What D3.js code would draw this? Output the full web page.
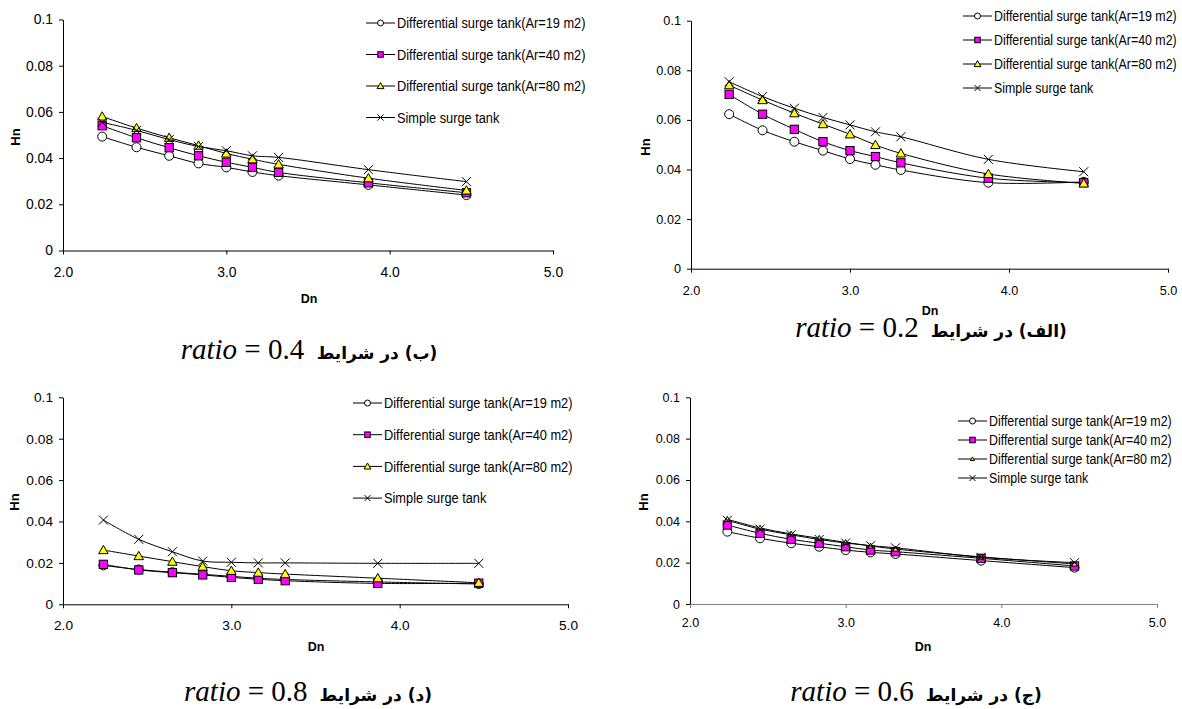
<!DOCTYPE html>
<html>
<head>
<meta charset="utf-8">
<script src="https://cdn.jsdelivr.net/npm/d3@7"></script>
<style>
  body { margin: 0; background: #fff; }
  svg { display: block; }
</style>
</head>
<body>
<svg id="chart" width="1182" height="709"></svg>
<script>
// Dn values (same for every plot)
const dn = [2.24, 2.45, 2.65, 2.83, 3.0, 3.16, 3.32, 3.87, 4.47];

const seriesNames = [
  'Differential surge tank(Ar=19 m2)',
  'Differential surge tank(Ar=40 m2)',
  'Differential surge tank(Ar=80 m2)',
  'Simple surge tank'
];
const seriesMarks = ['circle', 'square', 'triangle', 'x'];

const xTicks = [2, 3, 4, 5];
const yTicks = [0, 0.02, 0.04, 0.06, 0.08, 0.1];

// ratio = 0.4  (ب)
const r04_ar19 = [0.0493, 0.0447, 0.0410, 0.0377, 0.0360, 0.0340, 0.0324, 0.0284, 0.0240];
const r04_ar40 = [0.0540, 0.0488, 0.0445, 0.0410, 0.0382, 0.0360, 0.0338, 0.0293, 0.0250];
const r04_ar80 = [0.0580, 0.0530, 0.0488, 0.0454, 0.0420, 0.0395, 0.0373, 0.0313, 0.0260];
const r04_simple = [0.0555, 0.0520, 0.0480, 0.0450, 0.0432, 0.0410, 0.0403, 0.0350, 0.0298];

// ratio = 0.2  (الف)
const r02_ar19 = [0.0623, 0.0558, 0.0512, 0.0476, 0.0442, 0.0419, 0.0398, 0.0347, 0.0350];
const r02_ar40 = [0.0703, 0.0623, 0.0562, 0.0512, 0.0476, 0.0452, 0.0427, 0.0365, 0.0347];
const r02_ar80 = [0.0740, 0.0680, 0.0627, 0.0583, 0.0542, 0.0499, 0.0465, 0.0382, 0.0344];
const r02_simple = [0.0754, 0.0694, 0.0647, 0.0610, 0.0580, 0.0552, 0.0532, 0.0441, 0.0391];

// ratio = 0.8  (د)
const r08_ar19 = [0.0188, 0.0168, 0.0155, 0.0145, 0.0135, 0.0126, 0.0120, 0.0108, 0.0098];
const r08_ar40 = [0.0193, 0.0166, 0.0153, 0.0142, 0.0130, 0.0121, 0.0114, 0.0101, 0.0102];
const r08_ar80 = [0.0262, 0.0233, 0.0206, 0.0182, 0.0162, 0.0153, 0.0146, 0.0126, 0.0104];
const r08_simple = [0.0407, 0.0314, 0.0254, 0.0209, 0.0203, 0.0200, 0.0200, 0.0198, 0.0198];

// ratio = 0.6  (ج)
const r06_ar19 = [0.0350, 0.0318, 0.0294, 0.0277, 0.0261, 0.0250, 0.0242, 0.0210, 0.0176];
const r06_ar40 = [0.0382, 0.0342, 0.0313, 0.0294, 0.0277, 0.0261, 0.0253, 0.0221, 0.0184];
const r06_ar80 = [0.0410, 0.0368, 0.0339, 0.0318, 0.0298, 0.0281, 0.0266, 0.0228, 0.0194];
const r06_simple = [0.0405, 0.0362, 0.0335, 0.0312, 0.0295, 0.0282, 0.0272, 0.0226, 0.0200];

const ratios = ['0.4', '0.2', '0.8', '0.6'];
const letters = ['ب', 'الف', 'د', 'ج'];

// layout of the four plots
const panels = [
  { series: [r04_ar19, r04_ar40, r04_ar80, r04_simple], x0: 63, x1: 553, yb: 250.5, yt: 19.5,
    tickFs: 13.9, padX: 13, legFs: 12.8, legX: 366, legY: 23, legDy: 31.5,
    hn: [15, 137], dnPos: [309, 299], cap: [309, 359], axisCol: '#000', tri: 1 },
  { series: [r02_ar19, r02_ar40, r02_ar80, r02_simple], x0: 691, x1: 1168, yb: 268.7, yt: 20.7,
    tickFs: 12.7, padX: 13, legFs: 12.4, legX: 963, legY: 16, legDy: 24,
    hn: [645, 147], dnPos: [930, 311], cap: [931, 337], axisCol: '#000', tri: 1 },
  { series: [r08_ar19, r08_ar40, r08_ar80, r08_simple], x0: 63, x1: 568, yb: 604.3, yt: 397.3,
    tickFs: 13.7, padX: 12, legFs: 12.8, legX: 353, legY: 403, legDy: 31.7,
    hn: [14, 502], dnPos: [316, 647], cap: [308, 701], axisCol: '#000', tri: 1 },
  { series: [r06_ar19, r06_ar40, r06_ar80, r06_simple], x0: 690, x1: 1157, yb: 604, yt: 397.3,
    tickFs: 12.5, padX: 10, legFs: 12.4, legX: 958, legY: 421, legDy: 19,
    hn: [643, 502], dnPos: [923, 647], cap: [916, 701], axisCol: '#808080', tri: 0.6 }
];

const svg = d3.select('#chart');
const sans = '"Liberation Sans", Arial, sans-serif';

function marker(g, type, cx, cy, s) {
  const h = s / 2;
  if (type === 'circle') {
    g.append('circle').attr('cx', cx).attr('cy', cy).attr('r', h)
      .attr('fill', '#fff').attr('stroke', '#000').attr('stroke-width', 1);
  } else if (type === 'square') {
    g.append('rect').attr('x', cx - h * 0.92).attr('y', cy - h * 0.92)
      .attr('width', s * 0.92).attr('height', s * 0.92)
      .attr('fill', '#ff00ff').attr('stroke', '#000').attr('stroke-width', 1);
  } else if (type === 'triangle') {
    g.append('path')
      .attr('d', `M${cx},${cy - h * 1.05}L${cx + h * 1.05},${cy + h * 0.8}L${cx - h * 1.05},${cy + h * 0.8}Z`)
      .attr('fill', '#ffff00').attr('stroke', '#000').attr('stroke-width', 1);
  } else {
    g.append('path')
      .attr('d', `M${cx - h},${cy - h}L${cx + h},${cy + h}M${cx - h},${cy + h}L${cx + h},${cy - h}`)
      .attr('fill', 'none').attr('stroke', '#000').attr('stroke-width', 1);
  }
}

panels.forEach((p, pi) => {
  const g = svg.append('g');
  const x = d3.scaleLinear().domain([2, 5]).range([p.x0, p.x1]);
  const y = d3.scaleLinear().domain([0, 0.1]).range([p.yb, p.yt]);

  // axes
  const yAxis = d3.axisLeft(y).tickValues(yTicks).tickSize(4).tickSizeOuter(0).tickPadding(6)
    .tickFormat(d => d === 0 ? '0' : (d === 0.1 ? '0.1' : d3.format('.2f')(d)));
  const xAxis = d3.axisBottom(x).tickValues(xTicks).tickSize(4).tickSizeOuter(0).tickPadding(p.padX)
    .tickFormat(d3.format('.1f'));

  const ya = g.append('g').attr('transform', `translate(${p.x0},0)`).call(yAxis);
  const xa = g.append('g').attr('transform', `translate(0,${p.yb})`).call(xAxis);
  [ya, xa].forEach(a => {
    a.selectAll('text').attr('font-family', sans).attr('font-size', p.tickFs).attr('fill', '#000');
  });
  ya.select('.domain').attr('stroke', '#000');
  ya.selectAll('line').attr('stroke', '#000');
  xa.select('.domain').attr('stroke', p.axisCol);
  xa.selectAll('line').attr('stroke', p.axisCol);

  g.append('text').attr('transform', `translate(${p.hn[0]},${p.hn[1]}) rotate(-90)`)
    .attr('text-anchor', 'middle').attr('dy', '0.35em')
    .attr('font-family', sans).attr('font-weight', 'bold').attr('font-size', 13).text('Hn');
  g.append('text').attr('x', p.dnPos[0]).attr('y', p.dnPos[1]).attr('dy', '0.35em')
    .attr('text-anchor', 'middle')
    .attr('font-family', sans).attr('font-weight', 'bold').attr('font-size', 12.5).text('Dn');

  // series
  const line = d3.line().x((d, i) => x(dn[i])).y(d => y(d)).curve(d3.curveCatmullRom);
  p.series.forEach((vals, si) => {
    const sg = g.append('g');
    sg.append('path').attr('d', line(vals)).attr('fill', 'none')
      .attr('stroke', '#000').attr('stroke-width', 1);
    const s = seriesMarks[si] === 'triangle' ? 9 * p.tri : 9;
    vals.forEach((v, i) => marker(sg, seriesMarks[si], x(dn[i]), y(v), s));
  });

  // legend
  const lg = g.append('g');
  seriesNames.forEach((name, si) => {
    const ly = p.legY + si * p.legDy;
    lg.append('line').attr('x1', p.legX).attr('x2', p.legX + 29).attr('y1', ly).attr('y2', ly)
      .attr('stroke', '#000').attr('stroke-width', 1);
    const s = seriesMarks[si] === 'triangle' ? 6.5 * p.tri : 6;
    marker(lg, seriesMarks[si], p.legX + 14.5, ly, s);
    // text in the source is slightly stretched vertically
    lg.append('text').attr('transform', `translate(${p.legX + 31},${ly}) scale(1,1.15)`)
      .attr('dy', '0.35em')
      .attr('font-family', sans).attr('font-size', p.legFs).text(name);
  });

  // caption
  const cap = svg.append('g');
  const lat = cap.append('text').attr('y', p.cap[1])
    .attr('font-family', '"Liberation Serif", "Times New Roman", serif').attr('font-size', 29);
  lat.append('tspan').attr('font-style', 'italic').text('ratio');
  lat.append('tspan').text(' = ' + ratios[pi]);
  const arG = cap.append('g');
  const ar = arG.append('text').attr('y', p.cap[1]).attr('direction', 'rtl')
    .attr('font-family', '"DejaVu Sans", sans-serif').attr('font-weight', 'bold').attr('font-size', 17)
    .text('(' + letters[pi] + ') در شرایط');
  const lb = lat.node().getBBox();
  const ab = ar.node().getBBox();
  const gap = 12;
  const total = lb.width + gap + ab.width;
  const start = p.cap[0] - total / 2;
  lat.attr('x', start);
  arG.attr('transform', `translate(${start + lb.width + gap - ab.x},0)`);
});
</script>
</body>
</html>
